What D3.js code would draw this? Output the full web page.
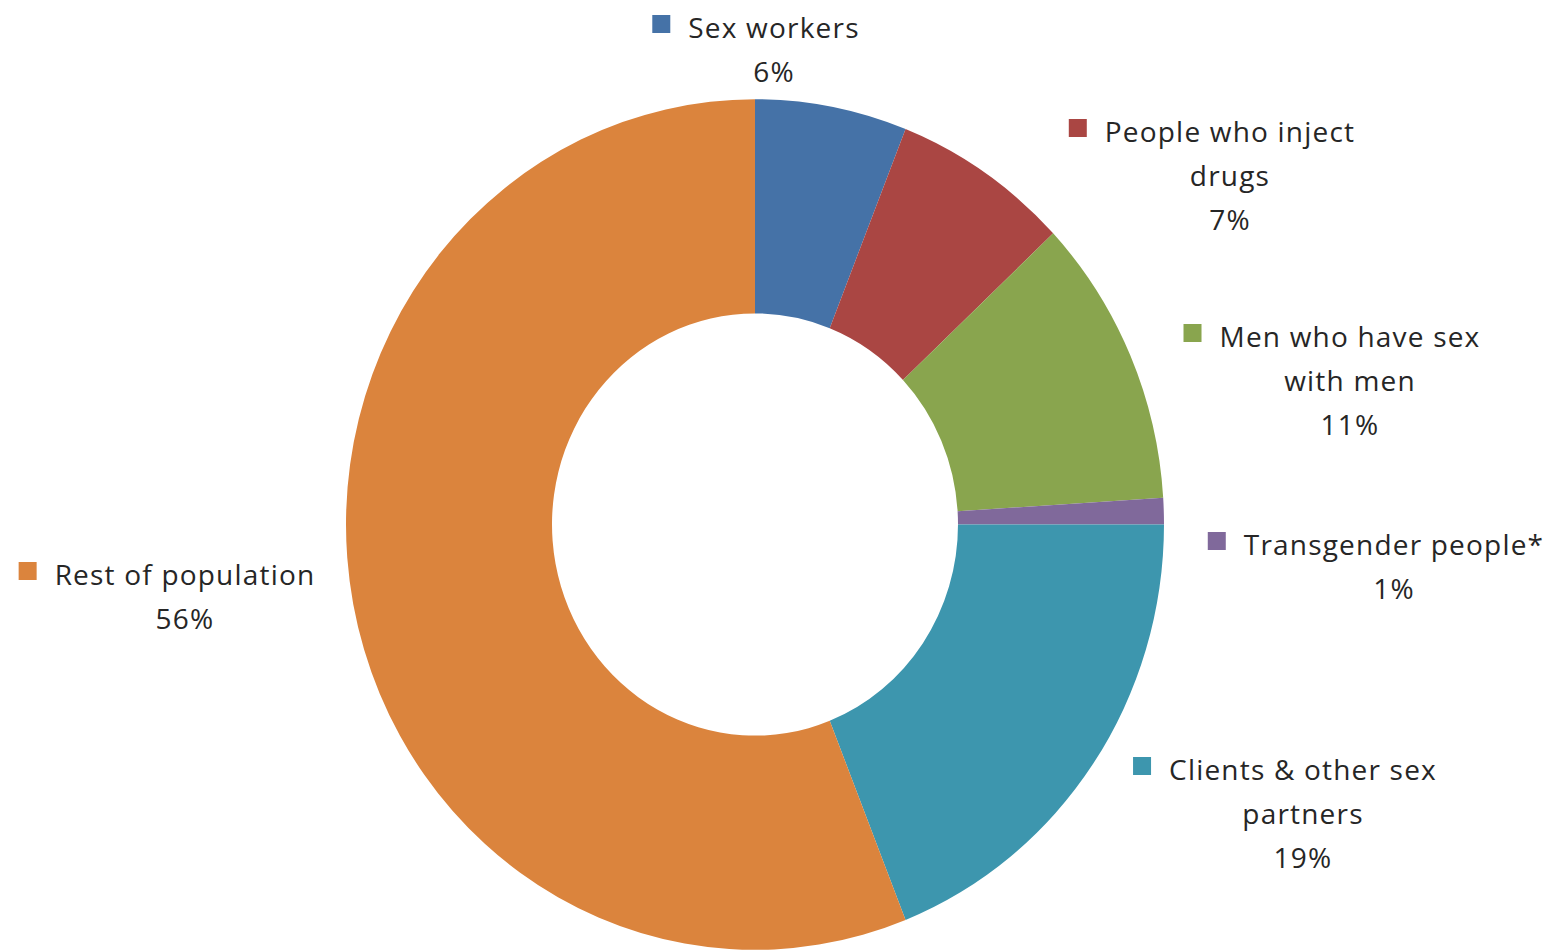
<!DOCTYPE html>
<html>
<head>
<meta charset="utf-8">
<script src="https://cdn.jsdelivr.net/npm/d3@7/dist/d3.min.js"></script>
<style>
  html, body { margin: 0; padding: 0; background: #ffffff; }
  svg { display: block; }
  .lbl { font-family: "Open Sans", "Noto Sans", sans-serif; font-size: 28px; letter-spacing: 1.2px; fill: #262626; }
</style>
</head>
<body>
<svg id="chart" width="1549" height="952"></svg>
<script>
// Share of new infections by population group
const categories = ["Sex workers", "People who inject drugs", "Men who have sex with men",
                    "Transgender people*", "Clients & other sex partners", "Rest of population"];
const values = [6, 7, 11, 1, 19, 56];
const labelLines = [
  ["Sex workers"],
  ["People who inject", "drugs"],
  ["Men who have sex", "with men"],
  ["Transgender people*"],
  ["Clients & other sex", "partners"],
  ["Rest of population"]
];
const colors = ["#4572A7", "#AA4643", "#89A54E", "#80699B", "#3D96AE", "#DB843D"];

// Label block placement: centre x and first baseline y of each block
const labelPos = [
  [774, 38], [1230, 142], [1350, 347], [1394, 555], [1303, 780], [185, 585]
];

const svg = d3.select("#chart");
const cx = 755, cy = 524.5;
const outerR = 409, innerR = 203;
const lineH = 44;

const pie = d3.pie().sort(null).value(d => d);
const arc = d3.arc().innerRadius(innerR).outerRadius(outerR);

const color = d3.scaleOrdinal().domain(categories).range(colors);

const ring = svg.append("g")
  .attr("transform", `translate(${cx},${cy}) scale(1,1.04)`);

const arcs = pie(values);
ring.selectAll("path")
  .data(arcs)
  .join("path")
  .attr("d", arc)
  .attr("fill", (d, i) => color(categories[i]));

// Data labels: category name + percentage, with a legend key before the first line
const total = d3.sum(values);
const labels = svg.append("g");
categories.forEach((cat, i) => {
  const [lx, ly] = labelPos[i];
  const g = labels.append("g");
  const lines = labelLines[i].concat([Math.round(values[i] / total * 100) + "%"]);
  let firstWidth = 0;
  lines.forEach((t, j) => {
    const txt = g.append("text")
      .attr("class", "lbl")
      .attr("x", lx)
      .attr("y", ly + j * lineH)
      .attr("text-anchor", "middle")
      .text(t);
    if (j === 0) firstWidth = txt.node().getComputedTextLength();
  });
  g.append("rect")
    .attr("x", lx - firstWidth / 2 - 36)
    .attr("y", ly - 23)
    .attr("width", 18)
    .attr("height", 18)
    .attr("fill", color(cat));
});
</script>
</body>
</html>
